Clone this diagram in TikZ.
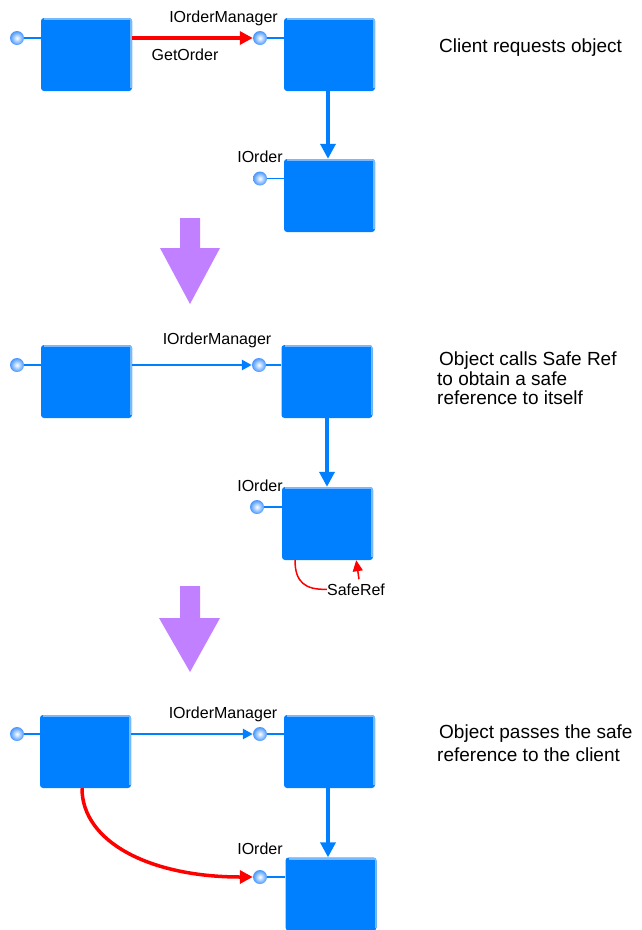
\documentclass[tikz,border=0pt]{standalone}
\usepackage{fontspec}
\setmainfont{Liberation Sans}
\usetikzlibrary{arrows.meta}
\definecolor{boxblue}{RGB}{0,128,255}
\definecolor{edgeblue}{RGB}{120,185,255}
\definecolor{balblue}{RGB}{70,150,255}
\definecolor{arrowpurple}{RGB}{192,128,255}
\definecolor{ared}{RGB}{255,0,0}
\begin{document}
\begin{tikzpicture}[x=1pt,y=-1pt,
 comp/.style={rectangle, rounded corners=3pt, fill=boxblue, inner sep=0pt,
   minimum width=91pt, minimum height=73pt,
   path picture={\draw[edgeblue, line width=4pt, sharp corners]
     ([xshift=3pt]path picture bounding box.north west) --
     (path picture bounding box.north east) --
     ([yshift=3pt]path picture bounding box.south east);}},
 iface/.style={circle, inner sep=0pt, minimum size=14pt, shading=radial,
   inner color=white, outer color=balblue},
 stub/.style={boxblue, line width=1.5pt},
 call/.style={boxblue, line width=2.5pt, -{Triangle[length=10pt,width=10pt]}},
 down/.style={boxblue, line width=3.5pt, -{Triangle[length=15pt,width=15pt]}},
 redcall/.style={ared, line width=3.5pt, -{Triangle[length=13pt,width=13pt]}},
 lbl/.style={font=\fontsize{16}{18}\selectfont, inner sep=0pt, anchor=base},
 maintext/.style={font=\fontsize{19}{21}\selectfont, inner sep=0pt, anchor=base west},
 bigarrow/.style={fill=arrowpurple}
]
\useasboundingbox (0,0) rectangle (642,930);

% ---------- Section 1 ----------
\node[comp] (b11) at (86.5,54.5) {};
\node[comp] (b12) at (329.5,54.5) {};
\node[comp] (b13) at (329.5,195.5) {};
\node[iface] (p11) at (17,38) {};
\node[iface] (p12) at (260,38) {};
\node[iface] (p13) at (260,178.5) {};
\draw[stub] (p11.east) -- (b11.west |- p11);
\draw[stub] (p12.east) -- (b12.west |- p12);
\draw[stub] (p13.east) -- (b13.west |- p13);
\draw[redcall] (b11.east |- p11) -- (p12.west);
\draw[down] ([xshift=-1.5pt]b12.south) -- ([xshift=-1.5pt]b12.south |- b13.north);
\node[lbl] (l11) at (223.5,22) {IOrderManager};
\node[lbl] (l12) at (185,60) {GetOrder};
\node[lbl] (l13) at (260,162) {IOrder};
\node[maintext] (t1) at (439,52) {Client requests object};

\fill[bigarrow] (180,218) -- (200,218) -- (200,248) -- (220,248) -- (190,304) -- (160,248) -- (180,248) -- cycle;

% ---------- Section 2 ----------
\node[comp] (b21) at (86.5,381.5) {};
\node[comp] (b22) at (327,381.5) {};
\node[comp] (b23) at (327.5,523.5) {};
\node[iface] (p21) at (17,365) {};
\node[iface] (p22) at (259,365) {};
\node[iface] (p23) at (257,507) {};
\draw[stub] (p21.east) -- (b21.west |- p21);
\draw[stub] (p22.east) -- (b22.west |- p22);
\draw[stub] (p23.east) -- (b23.west |- p23);
\draw[call] (b21.east |- p21) -- (p22.west);
\draw[down] (b22.south) -- (b22.south |- b23.north);
\node[lbl] (l21) at (217,344) {IOrderManager};
\node[lbl] (l23) at (260,491) {IOrder};
\node[lbl] (sr) at (356,595) {SafeRef};
\draw[ared, line width=1.5pt] ([xshift=-32.5pt]b23.south) .. controls (295,582) and (305,590) .. (sr.west);
\draw[ared, line width=1.5pt, -{Triangle[length=11pt,width=10pt]}] ([xshift=3pt,yshift=4pt]sr.north) -- ([xshift=-17pt]b23.south east);
\node[maintext] (t21) at (439,365) {Object calls Safe Ref};
\node[maintext] (t22) at (437,385) {to obtain a safe};
\node[maintext] (t23) at (437,404) {reference to itself};

\fill[bigarrow] (180,586) -- (200,586) -- (200,618) -- (220,618) -- (190,672) -- (159,618) -- (180,618) -- cycle;

% ---------- Section 3 ----------
\node[comp] (b31) at (85.5,751.5) {};
\node[comp] (b32) at (329.5,751.5) {};
\node[comp] (b33) at (331,894) {};
\node[iface] (p31) at (17,734) {};
\node[iface] (p32) at (260,734) {};
\node[iface] (p33) at (260,877) {};
\draw[stub] (p31.east) -- (b31.west |- p31);
\draw[stub] (p32.east) -- (b32.west |- p32);
\draw[stub] (p33.east) -- (b33.west |- p33);
\draw[call] (b31.east |- p31) -- (p32.west);
\draw[down] ([xshift=-1.5pt]b32.south) -- ([xshift=-1.5pt]b32.south |- b33.north);
\draw[redcall] ([xshift=-3.5pt]b31.south) .. controls (82,842) and (150,877) .. (p33.west);
\node[lbl] (l31) at (223,718) {IOrderManager};
\node[lbl] (l33) at (260,854) {IOrder};
\node[maintext] (t31) at (439,738) {Object passes the safe};
\node[maintext] (t32) at (437,761) {reference to the client};
\end{tikzpicture}
\end{document}
